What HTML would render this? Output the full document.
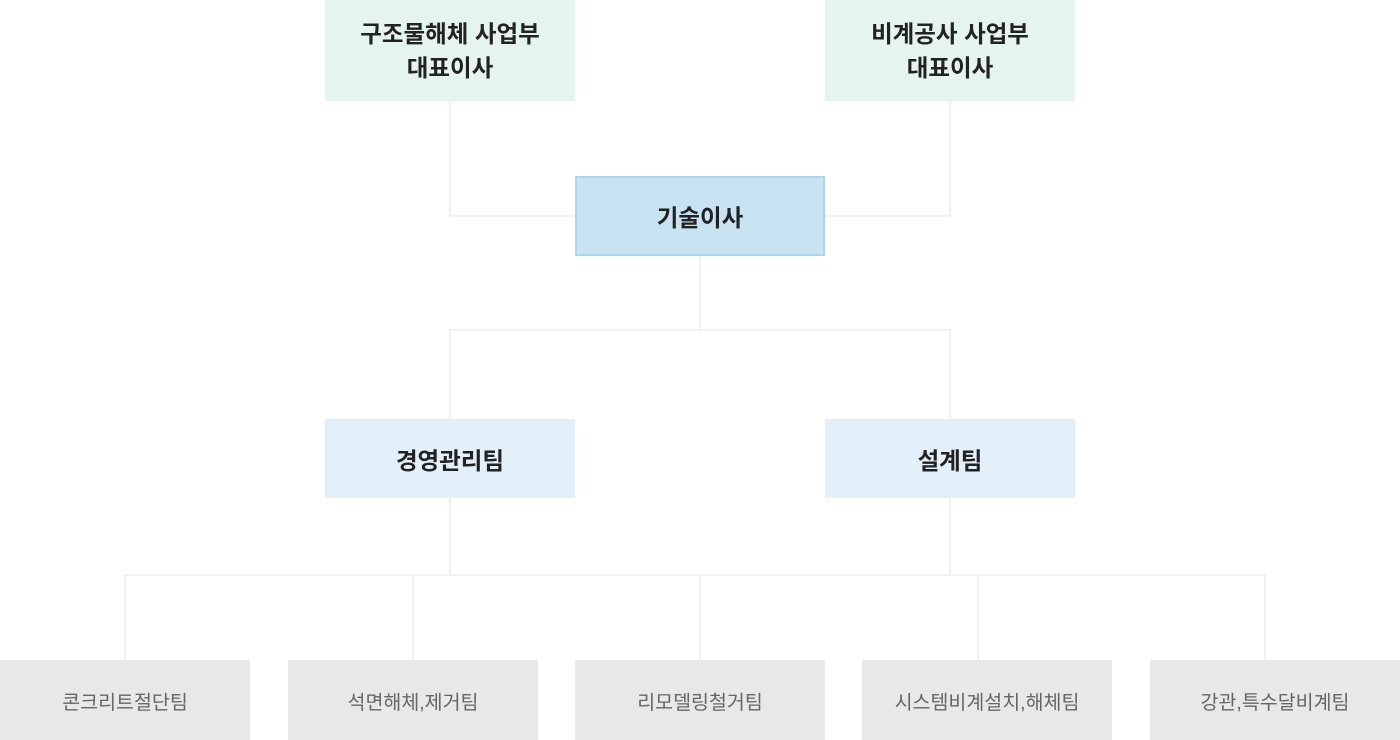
<!DOCTYPE html>
<html><head><meta charset="utf-8">
<style>
html,body{margin:0;padding:0;background:#fff;}
body{width:1400px;height:740px;position:relative;overflow:hidden;font-family:"Liberation Sans","Noto Sans CJK KR","NanumGothic",sans-serif;}
.b{position:absolute;display:flex;align-items:center;justify-content:center;text-align:center;box-sizing:border-box;}
.top{background:#e5f4ed;width:250px;height:101px;top:0;font-weight:bold;font-size:23.5px;line-height:34px;color:#222;}
.mid{background:#e3f0f9;width:250px;height:79px;top:419px;font-weight:bold;font-size:23.5px;color:#222;}
.tech{background:#c8e3f2;border:2px solid #acd4ea;width:250px;height:80px;top:176px;left:575px;font-weight:bold;font-size:23.5px;color:#222;}
.bot{background:#e8e8e8;width:250px;height:80px;top:660px;font-size:19.5px;color:#666;}
.l{position:absolute;background:#f1f1f1;}
</style></head><body>
<div class="l" style="left:449px;top:101px;width:2px;height:116px"></div>
<div class="l" style="left:449px;top:215px;width:126px;height:2px"></div>
<div class="l" style="left:949px;top:101px;width:2px;height:116px"></div>
<div class="l" style="left:825px;top:215px;width:126px;height:2px"></div>
<div class="l" style="left:699px;top:256px;width:2px;height:75px"></div>
<div class="l" style="left:449px;top:329px;width:502px;height:2px"></div>
<div class="l" style="left:449px;top:329px;width:2px;height:90px"></div>
<div class="l" style="left:949px;top:329px;width:2px;height:90px"></div>
<div class="l" style="left:449px;top:498px;width:2px;height:78px"></div>
<div class="l" style="left:949px;top:498px;width:2px;height:78px"></div>
<div class="l" style="left:124px;top:574px;width:1142px;height:2px"></div>
<div class="l" style="left:124px;top:574px;width:2px;height:86px"></div>
<div class="l" style="left:412px;top:574px;width:2px;height:86px"></div>
<div class="l" style="left:699px;top:574px;width:2px;height:86px"></div>
<div class="l" style="left:977px;top:574px;width:2px;height:86px"></div>
<div class="l" style="left:1264px;top:574px;width:2px;height:86px"></div>

<div class="b top" style="left:325px">구조물해체 사업부<br>대표이사</div>
<div class="b top" style="left:825px">비계공사 사업부<br>대표이사</div>
<div class="b tech">기술이사</div>
<div class="b mid" style="left:325px">경영관리팀</div>
<div class="b mid" style="left:825px">설계팀</div>
<div class="b bot" style="left:0px">콘크리트절단팀</div>
<div class="b bot" style="left:288px">석면해체,제거팀</div>
<div class="b bot" style="left:575px">리모델링철거팀</div>
<div class="b bot" style="left:862px">시스템비계설치,해체팀</div>
<div class="b bot" style="left:1150px">강관,특수달비계팀</div>
</body></html>
